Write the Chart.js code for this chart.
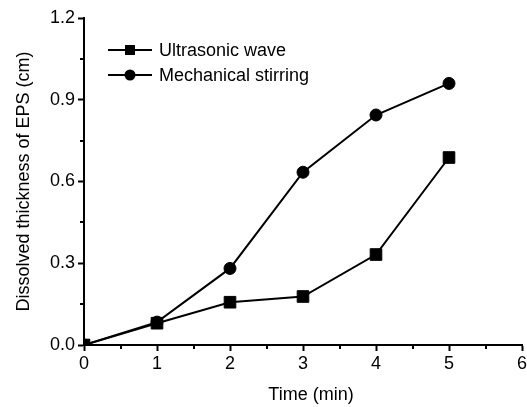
<!DOCTYPE html>
<html>
<head>
<meta charset="utf-8">
<script src="https://cdn.jsdelivr.net/npm/chart.js@4/dist/chart.umd.min.js"></script>
<style>
html,body{margin:0;padding:0;background:#fff;}
#wrap{width:527px;height:407px;}
</style>
</head>
<body>
<div id="wrap"><canvas id="c" width="527" height="407"></canvas></div>
<script>
const times = [0, 1, 2, 3, 4, 5];
const ultrasonic = [0, 0.08, 0.157, 0.178, 0.332, 0.688];
const mechanical = [0, 0.084, 0.281, 0.634, 0.844, 0.96];
const seriesNames = ['Ultrasonic wave', 'Mechanical stirring'];
const xTicks = [0, 1, 2, 3, 4, 5, 6];
const yTicks = [0.0, 0.3, 0.6, 0.9, 1.2];
const xMinor = [0.5, 1.5, 2.5, 3.5, 4.5, 5.5];
const yMinor = [0.15, 0.45, 0.75, 1.05];
const xTitle = 'Time (min)';
const yTitle = 'Dissolved thickness of EPS (cm)';

const FONT = "'Liberation Sans', Arial, sans-serif";
const PLOT_RIGHT = 522;

function pts(vals){ return times.map((t,i)=>({x:t,y:vals[i]})); }

const fixRight = {
  id:'fixRight',
  afterLayout(chart){
    const a = chart.chartArea;
    a.right = PLOT_RIGHT; a.width = a.right - a.left;
    const xs = chart.scales.x;
    xs.right = PLOT_RIGHT; xs.width = xs.right - xs.left;
    xs.configure();
    chart.scales.y.configure();
  }
};

const minorTicks = {
  id:'minorTicks',
  afterDraw(chart){
    const ctx = chart.ctx, xs = chart.scales.x, ys = chart.scales.y;
    const a = chart.chartArea;
    ctx.save();
    ctx.strokeStyle = '#000';
    ctx.lineWidth = 2;
    ctx.beginPath();
    xMinor.forEach(v=>{
      const px = Math.round(xs.getPixelForValue(v));
      ctx.moveTo(px, a.bottom); ctx.lineTo(px, a.bottom + 4);
    });
    yMinor.forEach(v=>{
      const py = Math.round(ys.getPixelForValue(v));
      ctx.moveTo(a.left, py); ctx.lineTo(a.left - 4, py);
    });
    ctx.stroke();
    // x axis title (slightly right of centre, as in the original)
    ctx.font = '18px ' + FONT;
    ctx.fillStyle = '#000';
    ctx.textAlign = 'center';
    ctx.textBaseline = 'middle';
    ctx.fillText(xTitle, (a.left + a.right) / 2 + 8, 395);
    ctx.restore();
  }
};

const customLegend = {
  id:'customLegend',
  afterDraw(chart){
    const ctx = chart.ctx;
    ctx.save();
    ctx.font = '18px ' + FONT;
    ctx.textBaseline = 'middle';
    ctx.fillStyle = '#000';
    chart.data.datasets.forEach((ds,i)=>{
      const y = 50 + i*25;
      const x0 = 108, x1 = 152, cx = 130;
      ctx.strokeStyle = '#000';
      ctx.lineWidth = 2;
      ctx.beginPath(); ctx.moveTo(x0,y); ctx.lineTo(x1,y); ctx.stroke();
      ctx.beginPath();
      if (ds.pointStyle === 'rect') {
        ctx.rect(cx-5, y-5, 10, 10);
      } else {
        ctx.arc(cx, y, 5.5, 0, Math.PI*2);
      }
      ctx.fill();
      ctx.fillText(ds.label, 159, y+1);
    });
    ctx.restore();
  }
};

new Chart(document.getElementById('c'), {
  type: 'line',
  data: {
    datasets: [
      {label: seriesNames[0], data: pts(ultrasonic), pointStyle:'rect', pointRadius:8.2, pointHoverRadius:8.2,
       borderColor:'#000', backgroundColor:'#000', borderWidth:2, pointBorderWidth:1, clip:0, tension:0},
      {label: seriesNames[1], data: pts(mechanical), pointStyle:'circle', pointRadius:6, pointHoverRadius:6,
       borderColor:'#000', backgroundColor:'#000', borderWidth:2, pointBorderWidth:1, clip:0, tension:0}
    ]
  },
  options: {
    responsive:false,
    animation:false,
    events:[],
    layout:{padding:{top:18, right:5, left:0, bottom:0}},
    plugins:{legend:{display:false}, tooltip:{enabled:false}},
    scales:{
      x:{
        type:'linear', min:0, max:6,
        afterBuildTicks(s){ s.ticks = xTicks.map(v=>({value:v})); },
        afterFit(s){ s.height = 62; },
        ticks:{font:{family:FONT,size:18}, color:'#000', padding:2, maxRotation:0, autoSkip:false,
               callback:(v)=>String(v)},
        grid:{drawOnChartArea:false, drawTicks:true, tickLength:6, tickWidth:2, tickColor:'#000'},
        border:{display:true, color:'#000', width:2},
        title:{display:false}
      },
      y:{
        type:'linear', min:0, max:1.2,
        afterBuildTicks(s){ s.ticks = yTicks.map(v=>({value:v})); },
        afterFit(s){ s.width = 84; },
        ticks:{font:{family:FONT,size:18}, color:'#000', padding:3, autoSkip:false,
               callback:(v)=>Number(v).toFixed(1)},
        grid:{drawOnChartArea:false, drawTicks:true, tickLength:6, tickWidth:2, tickColor:'#000'},
        border:{display:true, color:'#000', width:2},
        title:{display:true, text:yTitle, font:{family:FONT,size:18}, color:'#000', padding:{top:13,bottom:0}}
      }
    }
  },
  plugins:[fixRight, minorTicks, customLegend]
});
</script>
</body>
</html>
